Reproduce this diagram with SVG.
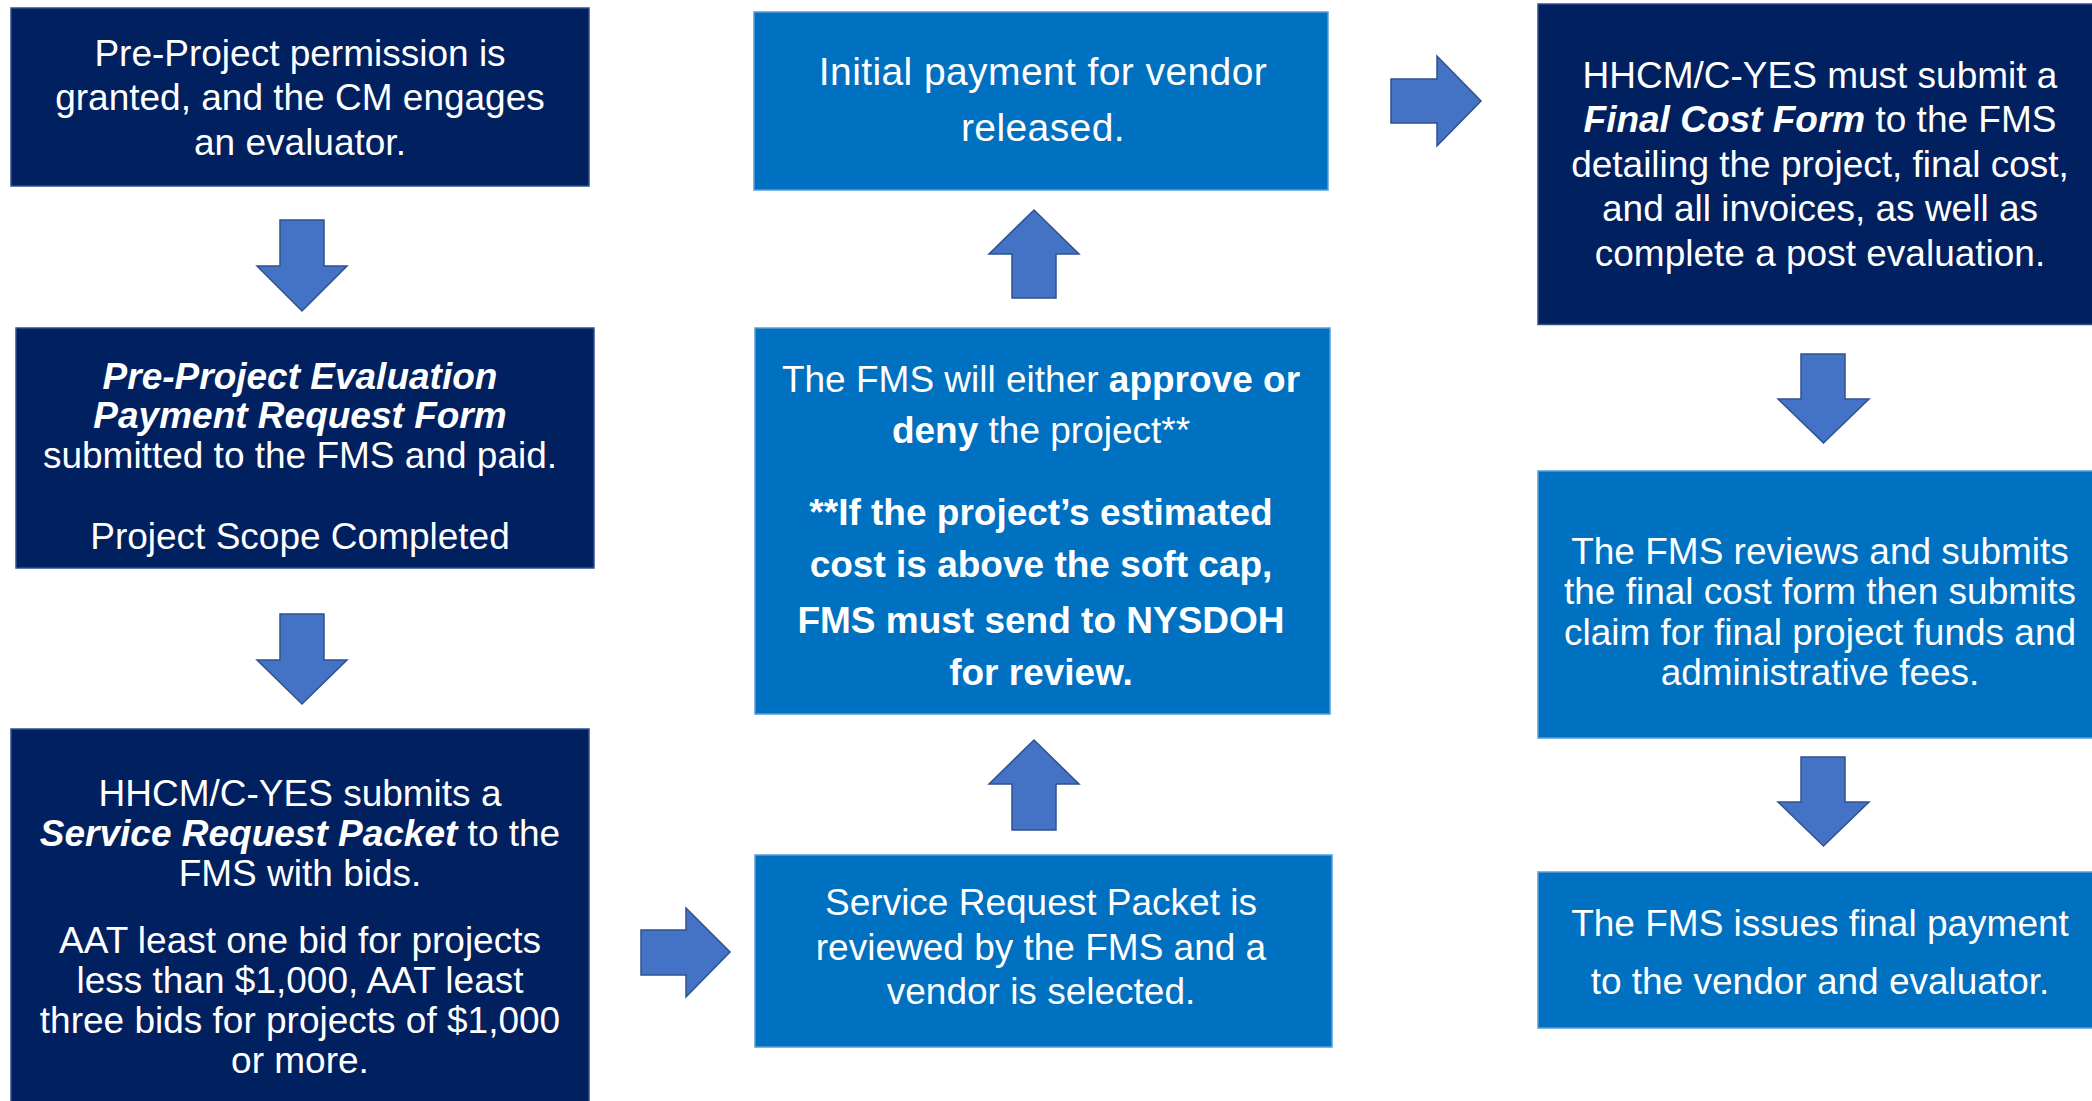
<svg xmlns="http://www.w3.org/2000/svg" width="2092" height="1101" viewBox="0 0 2092 1101">
<style>
.dark{fill:#002060;stroke:#2F4F8F;stroke-width:1.5}
.mid{fill:#0070C0;stroke:#5B9BD5;stroke-width:1.5}
.arr{fill:#4472C4;stroke:#2F528F;stroke-width:1.5;stroke-linejoin:miter}
text{font-family:"Liberation Sans",Arial,sans-serif;font-size:37px;fill:#FFFFFF;text-anchor:middle}
.b{font-weight:bold}
.bi{font-weight:bold;font-style:italic}
.wide{font-size:39px;letter-spacing:0.4px}
</style>
<rect width="2092" height="1101" fill="#FFFFFF"/>
<g id="connectors">
<polygon class="arr" points="280,220 324,220 324,266 347,266 302,311 257,266 280,266"/>
<polygon class="arr" points="280,614 324,614 324,660 347,660 302,704 257,660 280,660"/>
<polygon class="arr" points="641,930 686,930 686,908 730,952 686,997 686,975 641,975"/>
<polygon class="arr" points="1034,740 1079,784 1056,784 1056,830 1012,830 1012,784 989,784"/>
<polygon class="arr" points="1034,210 1079,254 1056,254 1056,298 1012,298 1012,254 989,254"/>
<polygon class="arr" points="1391,79 1437,79 1437,56 1481,101 1437,146 1437,123 1391,123"/>
<polygon class="arr" points="1801,354 1845,354 1845,399 1869,399 1823.5,443 1778,399 1801,399"/>
<polygon class="arr" points="1801,757 1845,757 1845,802 1869,802 1823.5,846 1778,802 1801,802"/>
</g>
<g id="node1">
<rect class="dark" x="11" y="8" width="578" height="178"/>
<text x="300" y="66">Pre-Project permission is</text>
<text x="300" y="110">granted, and the CM engages</text>
<text x="300" y="155">an evaluator.</text>
</g>
<g id="node2">
<rect class="dark" x="16" y="328" width="578" height="240"/>
<text x="300" y="388.5" class="bi">Pre-Project Evaluation</text>
<text x="300" y="428" class="bi">Payment Request Form</text>
<text x="300" y="468">submitted to the FMS and paid.</text>
<text x="300" y="549">Project Scope Completed</text>
</g>
<g id="node3">
<rect class="dark" x="11" y="729" width="578" height="380"/>
<text x="300" y="806">HHCM/C-YES submits a</text>
<text x="300" y="846"><tspan class="bi">Service Request Packet</tspan> to the</text>
<text x="300" y="886">FMS with bids.</text>
<text x="300" y="953">AAT least one bid for projects</text>
<text x="300" y="993">less than $1,000, AAT least</text>
<text x="300" y="1033">three bids for projects of $1,000</text>
<text x="300" y="1073">or more.</text>
</g>
<g id="node4">
<rect class="mid" x="754" y="12" width="574" height="178"/>
<text x="1043" y="85" class="wide">Initial payment for vendor</text>
<text x="1043" y="140.6" class="wide">released.</text>
</g>
<g id="node5">
<rect class="mid" x="755" y="328" width="575" height="386"/>
<text x="1041" y="391.5">The FMS will either <tspan class="b">approve or</tspan></text>
<text x="1041" y="443"><tspan class="b">deny</tspan> the project**</text>
<text x="1041" y="524.7" class="b">**If the project’s estimated</text>
<text x="1041" y="577" class="b">cost is above the soft cap,</text>
<text x="1041" y="632.5" class="b">FMS must send to NYSDOH</text>
<text x="1041" y="685" class="b">for review.</text>
</g>
<g id="node6">
<rect class="mid" x="755" y="855" width="577" height="192"/>
<text x="1041" y="915">Service Request Packet is</text>
<text x="1041" y="959.5">reviewed by the FMS and a</text>
<text x="1041" y="1004">vendor is selected.</text>
</g>
<g id="node7">
<rect class="dark" x="1538" y="4" width="570" height="320.5"/>
<text x="1820" y="87.7">HHCM/C-YES must submit a</text>
<text x="1820" y="132"><tspan class="bi">Final Cost Form</tspan> to the FMS</text>
<text x="1820" y="177">detailing the project, final cost,</text>
<text x="1820" y="221">and all invoices, as well as</text>
<text x="1820" y="265.7">complete a post evaluation.</text>
</g>
<g id="node8">
<rect class="mid" x="1538" y="471" width="570" height="267"/>
<text x="1820" y="564">The FMS reviews and submits</text>
<text x="1820" y="604">the final cost form then submits</text>
<text x="1820" y="644.5">claim for final project funds and</text>
<text x="1820" y="685">administrative fees.</text>
</g>
<g id="node9">
<rect class="mid" x="1538" y="872" width="570" height="156"/>
<text x="1820" y="936">The FMS issues final payment</text>
<text x="1820" y="993.7">to the vendor and evaluator.</text>
</g>
</svg>
